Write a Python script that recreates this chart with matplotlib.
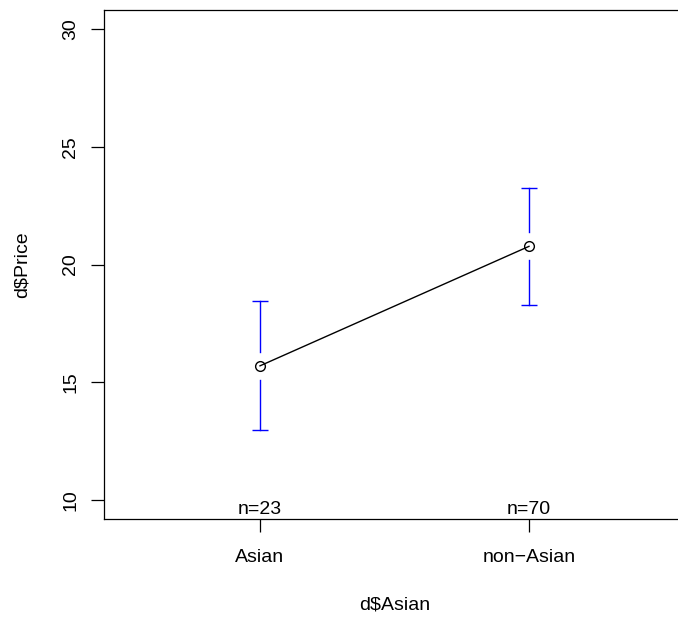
import numpy as np
import matplotlib
matplotlib.use("Agg")
import matplotlib.pyplot as plt

# group means with 95% confidence limits
groups = ["Asian", "non\u2212Asian"]
means = [15.70, 20.77]
upper = [18.43, 23.23]
lower = [12.98, 18.30]
counts = [23, 70]
yticks = [10, 15, 20, 25, 30]

plt.rcParams['font.family'] = ['Liberation Sans', 'DejaVu Sans']
fs = 14

fig = plt.figure()
fig.set_size_inches(6.78, 6.2)
# right edge of the box lies past the picture, as in the reference
ax = fig.add_axes([104/678, 101/620, (685-104)/678, (519-10)/620])

x = np.arange(1, len(groups) + 1)
gap = 0.6

# error bars, broken around the mean
for xi, m, lo, hi in zip(x, means, lower, upper):
    ax.plot([xi, xi], [m + gap, hi], color='blue', lw=1.0)
    ax.plot([xi, xi], [lo, m - gap], color='blue', lw=1.0)
    ax.plot([xi, xi], [hi, lo], ls='none', marker='_', ms=11.5, mew=1.0, color='blue')

ax.plot(x, means, 'k-', lw=1.0)
ax.plot(x, means, 'o', ms=7, mfc='none', mec='black', mew=1.0)

ax.set_xlim(0.42, 2.58)
ax.set_ylim(9.2, 30.8)
ax.set_xticks(x)
ax.set_xticklabels(groups, fontsize=fs)
ax.set_yticks(yticks)
ax.set_yticklabels([str(t) for t in yticks], fontsize=fs, rotation=90, va='center')
ax.tick_params(axis='x', length=9.4, width=0.9, pad=12.5)
ax.tick_params(axis='y', length=9.4, width=0.9, pad=8.5)
ax.spines['right'].set_visible(False)

for xi, n in zip(x, counts):
    ax.annotate("n=%d" % n, (xi, 9.2), xytext=(0, 1), textcoords='offset points',
                ha='center', va='bottom', fontsize=fs)

for s in ax.spines.values():
    s.set_linewidth(0.9)

fig.text(395/678, 1 - 605/620, "d$Asian", ha='center', va='center', fontsize=fs)
fig.text(22/678, 1 - 265/620, "d$Price", ha='center', va='center', rotation=90, fontsize=fs)

plt.savefig("out.png", dpi=100)
plt.close()
